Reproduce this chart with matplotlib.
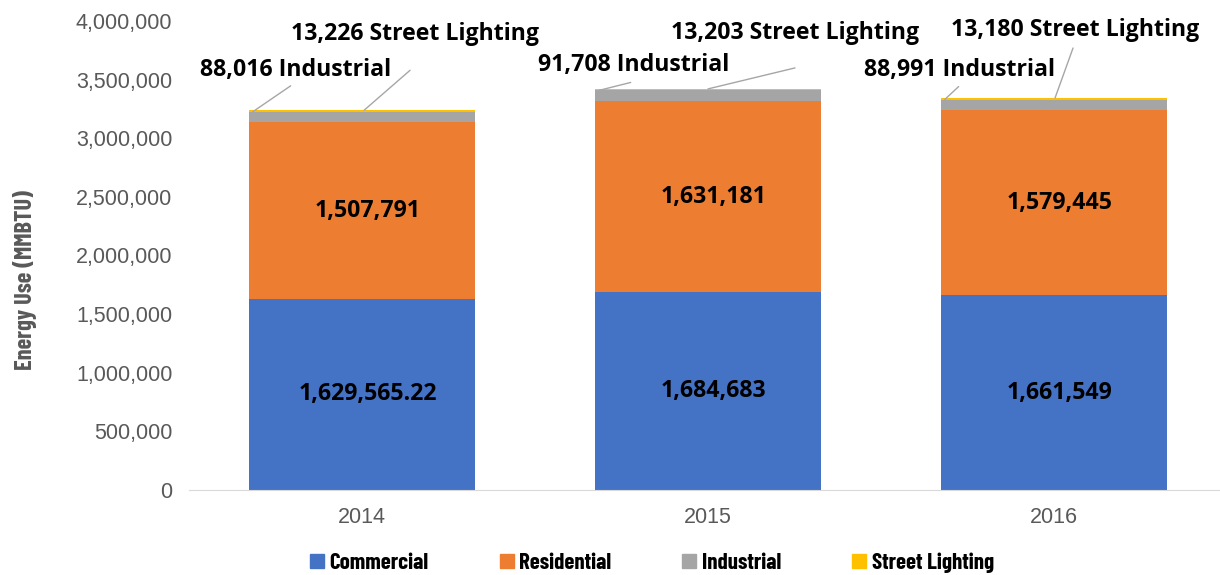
import matplotlib
matplotlib.use("Agg")
import matplotlib.pyplot as plt
from matplotlib import font_manager
import numpy as np

years = ["2014", "2015", "2016"]
commercial = [1629565.22, 1684683, 1661549]
residential = [1507791, 1631181, 1579445]
industrial = [88016, 91708, 88991]
street = [13226, 13203, 13180]
commercial_labels = ["1,629,565.22", "1,684,683", "1,661,549"]
residential_labels = ["1,507,791", "1,631,181", "1,579,445"]
yticks = [0, 500000, 1000000, 1500000, 2000000, 2500000, 3000000, 3500000, 4000000]
series_names = ["Commercial", "Residential", "Industrial", "Street Lighting"]
colors = ["#4472C4", "#ED7D31", "#A5A5A5", "#FFC000"]

ANN_FONT = "Open Sans"
TICK_FONT = "Liberation Sans"
NARROW = ["Barlow Condensed", "Asap Condensed", "Liberation Sans"]

fig = plt.figure(figsize=(12.2, 5.75), dpi=100)
ax = fig.add_axes([189 / 1220, 85 / 575, (1227 - 189) / 1220, 469 / 575])

x = np.arange(len(years))
w = 0.656
bottoms = np.zeros(len(years))
bars = []
for vals, c in zip([commercial, residential, industrial, street], colors):
    b = ax.bar(x, vals, w, bottom=bottoms, color=c, linewidth=0)
    bars.append(b)
    bottoms = bottoms + np.array(vals)

LBL = 16.7
for b, labs in [(bars[0], commercial_labels), (bars[1], residential_labels)]:
    ts = ax.bar_label(b, labels=labs, label_type="center",
                      fontsize=LBL, fontweight="bold", fontfamily=ANN_FONT, color="black")
    for t in ts:
        t.xyann = (4, t.xyann[1])

ind_top = np.array(commercial) + np.array(residential) + np.array(industrial)
total = ind_top + np.array(street)

ind_line_end = [(38, 26), (32, 8), (14, 13)]
ind_text = [(43, 42), (35, 25), (15, 30)]
st_line_end = [(46, 40), (87, 21), (18, 50)]
st_text = [(51, 76), (87, 56), (20, 68)]
st_dx = [0.006, 0.0, 0.003]

for i in range(len(years)):
    ix = x[i] - w / 2 + 0.012
    ax.annotate("", xy=(ix, ind_top[i]), xytext=ind_line_end[i], textcoords="offset pixels",
                arrowprops=dict(arrowstyle="-", color="#A6A6A6", lw=1.0, shrinkA=0, shrinkB=0))
    ax.annotate(f"{industrial[i]:,} Industrial", xy=(ix, ind_top[i]), xytext=ind_text[i],
                textcoords="offset pixels", ha="center", va="center",
                fontsize=LBL, fontweight="bold", fontfamily=ANN_FONT, color="black")
    sx = x[i] + st_dx[i]
    ax.annotate("", xy=(sx, total[i]), xytext=st_line_end[i], textcoords="offset pixels",
                arrowprops=dict(arrowstyle="-", color="#A6A6A6", lw=1.0, shrinkA=0, shrinkB=0))
    ax.annotate(f"{street[i]:,} Street Lighting", xy=(sx, total[i]), xytext=st_text[i],
                textcoords="offset pixels", ha="center", va="center",
                fontsize=LBL, fontweight="bold", fontfamily=ANN_FONT, color="black")

ax.set_xlim(-0.5, 2.5)
ax.set_ylim(0, 4000000)
ax.set_yticks(yticks)
ax.set_yticklabels([f"{v:,}" for v in yticks], fontsize=15.5, color="#595959", fontfamily=TICK_FONT)
ax.set_xticks(x)
ax.set_xticklabels(years, fontsize=15.5, color="#595959", fontfamily=TICK_FONT)
ax.tick_params(axis="both", length=0)
ax.tick_params(axis="y", pad=12)
ax.tick_params(axis="x", pad=12)
for s in ["top", "right", "left"]:
    ax.spines[s].set_visible(False)
ax.spines["bottom"].set_color("#D9D9D9")

fig.text(25 / 1220, 1 - 280 / 575, "Energy Use (MMBTU)", rotation=90, ha="center", va="center",
         fontsize=17.5, fontweight="bold", color="#595959", family=NARROW)

handles = [plt.Rectangle((0, 0), 1, 1, color=c) for c in colors]
leg = fig.legend(handles, series_names, loc="center", bbox_to_anchor=(652 / 1220, 1 - 563 / 575),
                 ncol=4, frameon=False, handlelength=0.6, handleheight=0.6, handletextpad=0.25,
                 columnspacing=3.1,
                 prop=font_manager.FontProperties(family=NARROW, weight="bold", size=16.5))

fig.savefig("out.png", dpi=100)
